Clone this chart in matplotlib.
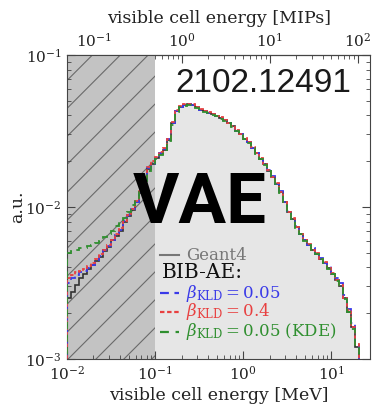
import matplotlib
matplotlib.use('Agg')
import matplotlib.pyplot as plt
import matplotlib.ticker as mticker
import numpy as np

plt.rcParams['font.family'] = 'DejaVu Serif'
plt.rcParams['mathtext.fontset'] = 'dejavuserif'

# binning: log bins, 22 per decade from 0.01 MeV
bins_per_decade = 22
first_edge_log = -2.0
n_bins = 73
mip_mev = 0.2      # 1 MIP in MeV
cut_mev = 0.1      # 0.5 MIP cut

# log10 of normalised counts per bin
geant4_log = [-2.60, -2.56, -2.51, -2.47, -2.44, -2.41, -2.38, -2.355, -2.33, -2.29,
              -2.26, -2.22, -2.19, -2.155, -2.10, -2.06, -2.02, -1.97, -1.91, -1.82,
              -1.75, -1.72, -1.68, -1.65, -1.625, -1.56, -1.45, -1.37, -1.34, -1.33,
              -1.325, -1.33, -1.345, -1.36, -1.37, -1.38, -1.39, -1.40, -1.415, -1.43,
              -1.45, -1.47, -1.50, -1.52, -1.55, -1.575, -1.61, -1.645, -1.685, -1.72,
              -1.76, -1.80, -1.85, -1.90, -1.97, -2.03, -2.08, -2.13, -2.18, -2.22,
              -2.25, -2.28, -2.31, -2.34, -2.37, -2.40, -2.44, -2.48, -2.52, -2.60,
              -2.69, -2.79, -2.92]

beta005_log = [-2.50, -2.47, -2.45, -2.43, -2.42, -2.40, -2.38, -2.35, -2.32, -2.285,
               -2.255, -2.22, -2.185, -2.15, -2.095, -2.055, -2.015, -1.965, -1.90, -1.815,
               -1.745, -1.715, -1.675, -1.645, -1.62, -1.555, -1.45, -1.37, -1.34, -1.33,
               -1.325, -1.33, -1.345, -1.36, -1.37, -1.38, -1.39, -1.40, -1.415, -1.43,
               -1.45, -1.47, -1.50, -1.52, -1.55, -1.575, -1.61, -1.645, -1.68, -1.715,
               -1.755, -1.795, -1.85, -1.895, -1.965, -2.025, -2.08, -2.125, -2.18, -2.215,
               -2.25, -2.27, -2.31, -2.335, -2.37, -2.39, -2.44, -2.47, -2.50, -2.58,
               -2.67, -2.76, -2.90]

beta04_log = [-2.47, -2.45, -2.43, -2.42, -2.41, -2.39, -2.37, -2.34, -2.31, -2.28,
              -2.25, -2.215, -2.18, -2.14, -2.09, -2.05, -2.01, -1.96, -1.89, -1.80,
              -1.74, -1.70, -1.67, -1.64, -1.615, -1.55, -1.44, -1.365, -1.335, -1.325,
              -1.32, -1.325, -1.34, -1.355, -1.37, -1.375, -1.39, -1.40, -1.41, -1.43,
              -1.445, -1.47, -1.495, -1.52, -1.545, -1.575, -1.605, -1.645, -1.68, -1.72,
              -1.755, -1.80, -1.845, -1.90, -1.965, -2.03, -2.075, -2.13, -2.175, -2.22,
              -2.245, -2.28, -2.305, -2.34, -2.365, -2.40, -2.435, -2.48, -2.515, -2.60,
              -2.68, -2.79, -2.90]

kde_log = [-2.30, -2.29, -2.285, -2.27, -2.27, -2.255, -2.25, -2.24, -2.225, -2.20,
           -2.18, -2.16, -2.125, -2.10, -2.07, -2.03, -1.99, -1.95, -1.90, -1.83,
           -1.76, -1.725, -1.685, -1.655, -1.625, -1.565, -1.46, -1.375, -1.34, -1.335,
           -1.33, -1.335, -1.35, -1.36, -1.375, -1.38, -1.395, -1.40, -1.42, -1.435,
           -1.45, -1.475, -1.50, -1.525, -1.55, -1.58, -1.61, -1.65, -1.685, -1.725,
           -1.76, -1.805, -1.85, -1.905, -1.97, -2.035, -2.08, -2.135, -2.18, -2.225,
           -2.25, -2.285, -2.31, -2.345, -2.37, -2.405, -2.44, -2.485, -2.52, -2.605,
           -2.69, -2.80, -2.92]

edges = 10 ** (first_edge_log + np.arange(n_bins + 1) / bins_per_decade)

fig = plt.figure(figsize=(3.72, 4.04), dpi=100)
ax = fig.add_axes([0.180, 0.1114, 0.815, 0.7525])
ax.set_xscale('log')
ax.set_yscale('log')

# filled Geant4 area
ax.stairs(10 ** np.array(geant4_log), edges, fill=True, baseline=1e-4,
          color='#e6e6e6', zorder=0)

# cut region below 0.5 MIP
span = ax.axvspan(0.01, cut_mev, color='#c3c3c3', zorder=1, lw=0)
for c in np.arange(-1.1, 0.35, 0.092):
    ln, = ax.plot([c, c + 1.0], [0, 1], transform=ax.transAxes,
                  color='#6a6a6a', lw=0.8, zorder=1.5)
    ln.set_clip_path(span)

ax.stairs(10 ** np.array(geant4_log), edges, baseline=1e-4,
          color='#333333', lw=1.2, zorder=3)
ax.stairs(10 ** np.array(beta005_log), edges, baseline=1e-4,
          color='#3a3ae8', lw=1.3, linestyle=(0, (4, 2.5)), zorder=4)
ax.stairs(10 ** np.array(beta04_log), edges, baseline=1e-4,
          color='#e84040', lw=1.3, linestyle=(0, (2, 1.2)), zorder=5)
ax.stairs(10 ** np.array(kde_log), edges, baseline=1e-4,
          color='#2f8f2f', lw=1.3, linestyle=(0, (4, 3)), zorder=6)

ax.set_xlim(0.01, 27.5)
ax.set_ylim(1e-3, 1e-1)

for s in ax.spines.values():
    s.set_color('#444444')
ax.tick_params(which='both', direction='in', top=False, right=True,
               colors='#444444', labelcolor='#222222', labelsize=11)
ax.tick_params(which='major', length=6, pad=4)
ax.tick_params(which='minor', length=3)

ax.set_xlabel('visible cell energy [MeV]', fontsize=12.5, labelpad=3, color='#222222')
ax.set_ylabel('a.u.', fontsize=12.5, color='#222222')
ax.yaxis.set_label_coords(-0.135, 0.5)

top = ax.secondary_xaxis('top', functions=(lambda e: e / mip_mev, lambda m: m * mip_mev))
top.xaxis.set_major_locator(mticker.FixedLocator([0.1, 1, 10, 100]))
top.xaxis.set_minor_formatter(mticker.NullFormatter())
top.tick_params(which='both', direction='in', colors='#444444',
                labelcolor='#222222', labelsize=11)
top.tick_params(which='major', length=6, pad=4)
top.tick_params(which='minor', length=3)
top.set_xlabel('visible cell energy [MIPs]', fontsize=12.5, labelpad=6, color='#222222')

# legend drawn by hand
leg_rows = [0.342, 0.286, 0.217, 0.155, 0.089]
hx0, hx1, tx = 0.307, 0.370, 0.392
ax.plot([hx0, hx1], [leg_rows[0]] * 2, transform=ax.transAxes, color='#777777', lw=1.5, zorder=7)
ax.text(tx, leg_rows[0], 'Geant4', transform=ax.transAxes, va='center', ha='left',
        fontsize=12, color='#777777', zorder=7)
ax.text(hx0 + 0.005, leg_rows[1], 'BIB-AE:', transform=ax.transAxes, va='center', ha='left',
        fontsize=14.5, color='#111111', zorder=7)
leg_items = [(r'$\beta_{\mathrm{KLD}} = 0.05$', '#3a3ae8', (0, (4, 2.5))),
             (r'$\beta_{\mathrm{KLD}} = 0.4$', '#e84040', (0, (2, 1.2))),
             (r'$\beta_{\mathrm{KLD}} = 0.05$ (KDE)', '#2f8f2f', (0, (4, 3)))]
for yy, (lab, col, ls) in zip(leg_rows[2:], leg_items):
    ax.plot([hx0, hx1], [yy, yy], transform=ax.transAxes, color=col, lw=1.6,
            linestyle=ls, zorder=7)
    ax.text(tx, yy, lab, transform=ax.transAxes, va='center', ha='left',
            fontsize=12, color=col, zorder=7)

ax.text(0.356, 0.878, '2102.12491', transform=ax.transAxes, family='Liberation Sans',
        fontsize=24, color='#1a1a1a', va='baseline', ha='left', zorder=8)
ax.text(0.218, 0.447, 'VAE', transform=ax.transAxes, family='Roboto',
        fontweight='bold', fontsize=51, color='black', va='baseline', ha='left', zorder=8)

fig.savefig('out.png', dpi=100)
